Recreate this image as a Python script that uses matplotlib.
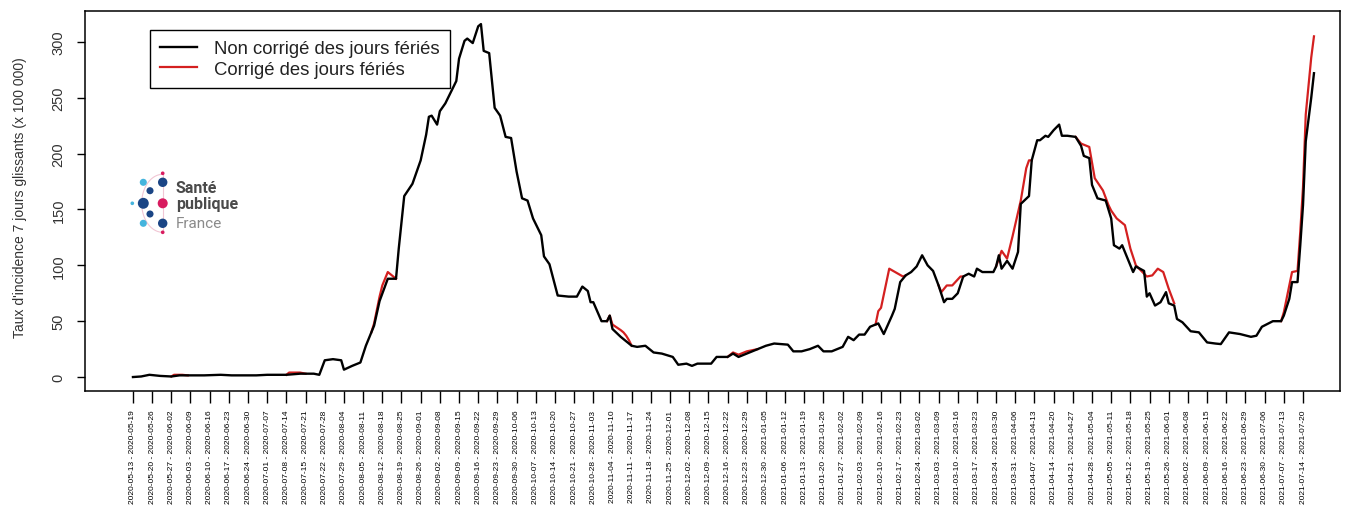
import numpy as np
import pandas as pd
import matplotlib
matplotlib.use("Agg")
import matplotlib.pyplot as plt

plt.rcParams['font.family'] = ['Liberation Sans', 'DejaVu Sans']

# days counted from 2020-05-19 (end of the first 7-day window)
black_day = [0, 3, 6, 10, 14, 17, 21, 26, 32, 36, 42, 45, 49, 56, 61, 66, 68, 70, 73, 76,
             77, 80, 83, 85, 87, 88, 90, 93, 95, 96, 97, 99, 102, 105, 107, 108, 109, 111, 112, 114,
             115, 118, 119, 121, 122, 124, 126, 127, 128, 130, 132, 134, 136, 138, 140, 142, 144, 146, 149, 150,
             152, 155, 159, 162, 164, 166, 167, 168, 171, 173, 174, 175, 178, 180, 182, 184, 187, 190, 193, 197,
             199, 202, 204, 206, 211, 213, 217, 219, 221, 224, 228, 231, 234, 239, 241, 244, 247, 250, 252, 255,
             259, 261, 263, 265, 267, 269, 271, 272, 274, 277, 278, 280, 282, 284, 286, 288, 290, 292, 294, 296,
             297, 299, 301, 303, 305, 307, 308, 310, 314, 315, 316, 317, 319, 321, 323, 324, 327, 328, 330, 331,
             333, 334, 336, 338, 339, 341, 344, 346, 347, 349, 350, 352, 355, 357, 358, 360, 361, 365, 366, 369,
             370, 371, 373, 375, 377, 378, 380, 381, 383, 386, 389, 392, 395, 397, 400, 404, 408, 410, 412, 416,
             419, 420, 422, 423, 425, 426, 427, 428, 430, 431]
black_val = [0, 0.5, 2, 1, 0.5, 1.5, 1.5, 1.5, 2, 1.5, 1.5, 1.5, 2, 2, 3, 3, 2, 15, 16, 15,
             6.6, 10, 13, 28, 40, 46, 68, 88, 88, 88, 115, 162, 173, 194, 217, 233, 234, 226, 238, 245,
             250, 265, 285, 301, 303, 299, 314, 316, 292, 290, 241, 234, 215, 214, 184, 160, 158, 142, 127, 108,
             101, 73, 72, 72, 81, 77, 67, 67, 50, 50, 55, 43, 36, 32, 28, 27, 28, 22, 21, 18,
             11, 12, 10, 12, 12, 18, 18, 21, 18, 21, 25, 28, 30, 29, 23, 23, 25, 28, 23, 23,
             27, 36, 33, 38, 38, 45, 47, 48, 38.5, 55, 61, 85, 91, 94, 99, 109, 100, 95, 82, 67,
             70, 70, 75, 90, 92.5, 90, 97, 94, 94, 99, 109, 97, 104, 97, 112, 155, 162, 194, 212, 212,
             216, 215, 221, 226, 216, 216, 215, 207, 198, 196, 172, 160, 158, 142, 118, 115, 118, 94, 99, 95,
             72, 75, 64, 67, 76, 66, 64, 52, 49, 41, 40, 31, 30, 29.5, 40, 38.5, 36, 37, 45, 50,
             50, 55, 70, 85, 85, 118, 154, 211, 250, 272]

# corrected series, only where it departs from the uncorrected one (nan = break)
nan = np.nan
red_day = [14, 15, 18, 20, nan,
           56, 57, 61, 63, nan,
           87, 88, 90, 91, 93, 95, 96, nan,
           173, 174, 175, 178, 179, 180, 181, 182, nan,
           217, 219, 221, 224, 228, nan,
           271, 272, 273, 276, 281, 282, nan,
           294, 295, 297, 299, 302, 303, nan,
           315, 317, 319, 321, 324, 326, 327, 328, nan,
           344, 346, 349, 351, 354, 356, 357, 359, 362, 364, 366, 370, 372, 374, 376, 378, 380, nan,
           419, 420, 423, 425, 426, 427, 428, 430, 431]
red_val = [0.5, 2, 2, 1.5, nan,
           2, 4, 4, 3, nan,
           40, 48, 72, 82, 94, 90, 88, nan,
           50, 55, 47, 42, 40, 37, 33, 28, nan,
           18, 22, 20, 23, 25, nan,
           47, 59, 62, 97, 90, 91, nan,
           82, 76, 82, 82, 90, 90, nan,
           99, 113, 106, 126, 158, 187, 194, 194, nan,
           215, 209, 206, 178, 167, 154, 149, 142, 136, 115, 100, 90, 91, 97, 94, 79, 66, nan,
           50, 58, 94, 95, 130, 170, 235, 286, 305]

week_end = pd.date_range("2020-05-19", "2021-07-20", freq="7D")
tick_labels = [f"{(d - pd.Timedelta(days=6)):%Y-%m-%d} - {d:%Y-%m-%d}" for d in week_end]
tick_pos = [(d - week_end[0]).days for d in week_end]
y_ticks = [0, 50, 100, 150, 200, 250, 300]

fig = plt.figure(figsize=(13.49, 5.06), dpi=100)
ax = fig.add_axes([85 / 1349, 1 - 392 / 506, 1255 / 1349, 380 / 506])

ax.plot(red_day, red_val, color='#d42020', lw=1.6, label='Corrigé des jours fériés', zorder=2)
ax.plot(black_day, black_val, color='black', lw=1.7, label='Non corrigé des jours fériés', zorder=3)

ax.set_xlim(-17.5, 440.5)
ax.set_ylim(-12.5, 327.7)
ax.set_xticks(tick_pos)
ax.set_xticklabels(tick_labels, rotation=90, fontsize=6, va='top')
ax.set_yticks(y_ticks)
ax.set_yticklabels([str(v) for v in y_ticks], rotation=90, va='center', fontsize=10.5, color='#333333')
ax.tick_params(axis='x', length=8.5, width=1, pad=5)
ax.tick_params(axis='y', length=6, width=1, pad=8)
for s in ax.spines.values():
    s.set_linewidth(1.1)

fig.text(20 / 1349, 1 - 198 / 506, "Taux d'incidence 7 jours glissants (x 100 000)",
         rotation=90, ha='center', va='center', fontsize=10, color='#333333')

handles, labels = ax.get_legend_handles_labels()
leg = ax.legend(handles[::-1], labels[::-1], loc='upper left',
                bbox_to_anchor=((150 - 85) / 1255, (392 - 31) / 380),
                fontsize=13.3, frameon=True, fancybox=False, framealpha=1,
                edgecolor='black', borderaxespad=0, borderpad=0.55,
                handlelength=2.0, handletextpad=0.9, labelspacing=0.2)
leg.get_frame().set_linewidth(1.0)
for t in leg.get_texts():
    t.set_color('#222222')

# Santé publique France logo, drawn in pixel space
lg = fig.add_axes([125 / 1349, 1 - 240 / 506, 125 / 1349, 75 / 506])
lg.set_xlim(125, 250)
lg.set_ylim(240, 165)
lg.axis('off')
navy, sky, pink = '#1b4585', '#45b4dd', '#d81b5f'
arc_t = np.linspace(-np.pi / 2, np.pi / 2, 50)
lg.plot(162.7 - 21 * np.cos(arc_t), 204.3 + 29 * np.sin(arc_t), color='#f1c6d4', lw=0.8, zorder=1)
lg.plot([162.7, 162.7], [175, 233], color='#f1c6d4', lw=0.8, zorder=1)
dot_x = [162.7, 143.3, 162.7, 150, 132.3, 143.3, 162.7, 150, 143.3, 162.7, 162.7]
dot_y = [174.3, 183.3, 183.3, 191.7, 204.3, 204.3, 204.3, 215, 224.3, 224.3, 233.3]
dot_s = [7, 26, 46, 26, 7, 62, 52, 26, 26, 46, 7]
dot_c = [pink, sky, navy, navy, sky, navy, pink, navy, sky, navy, pink]
lg.scatter(dot_x, dot_y, s=dot_s, c=dot_c, zorder=2, linewidths=0)
lg.text(176, 193, 'Santé', fontsize=11.5, fontweight='bold', family='Roboto', color='#4a4a4a', va='baseline')
lg.text(176, 209, 'publique', fontsize=11.5, fontweight='bold', family='Roboto', color='#4a4a4a', va='baseline')
lg.text(176, 228, 'France', fontsize=11, family='Roboto', color='#8a8a8a', va='baseline')

fig.savefig('out.png', dpi=100)
